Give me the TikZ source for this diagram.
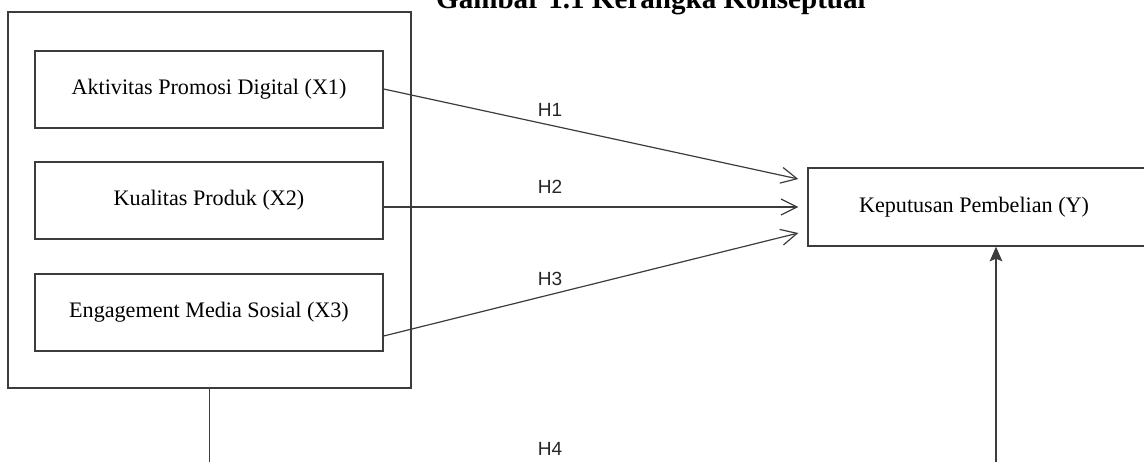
\documentclass[tikz,border=0pt]{standalone}
\usepackage{fontspec}
\setmainfont{Liberation Serif}
\newfontfamily\hfont{Liberation Sans}
\usetikzlibrary{arrows.meta,calc}
\definecolor{ln}{RGB}{60,60,60}
\begin{document}
\begin{tikzpicture}[x=0.75pt,y=-0.75pt,
  box/.style={draw=ln, line width=1pt, rectangle, inner sep=0pt},
  varbox/.style={box, minimum width=261pt, minimum height=57.75pt, font=\fontsize{16.6pt}{19pt}\selectfont},
  hyp/.style={draw=ln, line width=0.9pt, -{Straight Barb[length=12pt,width=12pt,line width=0.9pt]}},
  hlab/.style={font=\hfont\fontsize{14.3pt}{16pt}\selectfont, text=black!85, inner sep=0pt},
  conn/.style={draw=ln, line width=0.9pt}]
\useasboundingbox (0,0) rectangle (1144,461);
\clip (0,0) rectangle (1144,461);

\node[anchor=base east, font=\bfseries\fontsize{21.8pt}{24pt}\selectfont, inner sep=0pt] (title) at (866,8.5) {Gambar 1.1 Kerangka Konseptual};

\node[box, minimum width=302.25pt, minimum height=282pt] (outer) at (209.5,200) {};
\node[varbox] (x1) at (209,89.5) {Aktivitas Promosi Digital (X1)};
\node[varbox] (x2) at (209,200.5) {Kualitas Produk (X2)};
\node[varbox] (x3) at (209,312.5) {Engagement Media Sosial (X3)};

\node[box, minimum width=282pt, minimum height=58.5pt] (y) at (996,207) {};
\node[font=\fontsize{16.6pt}{19pt}\selectfont, inner sep=0pt] (ylab) at (974,207) {Keputusan Pembelian (Y)};

\draw[hyp] ($(x1.east)+(0,-0.5)$) -- ($(y.west)+(-9,-28)$);
\draw[hyp] ($(x2.east)+(0,6.5)$) -- ($(y.west)+(-9,0)$);
\draw[hyp] ($(x3.east)+(0,23.5)$) -- ($(y.west)+(-9,26)$);

\node[hlab] (h1) at (550,110) {H1};
\node[hlab] (h2) at (550,187) {H2};
\node[hlab] (h3) at (550,279) {H3};
\node[hlab] (h4) at (550,448.5) {H4};

\coordinate (b1) at (209.5,470);
\coordinate (b2) at (996,470);
\draw[conn] (outer.south) -- (b1);
\draw[conn, -{Stealth[length=11pt,width=9.5pt,inset=2pt]}] (b2) -- (y.south);
\end{tikzpicture}
\end{document}
